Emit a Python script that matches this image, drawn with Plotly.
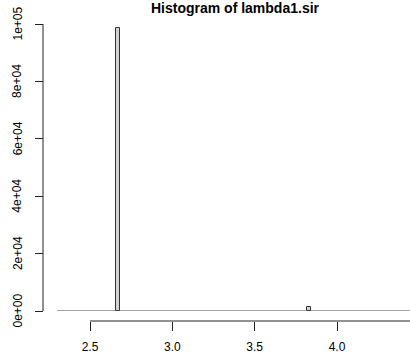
import plotly.graph_objects as go

# ---- data ----
bin_width = 0.02
bin_lefts = [2.66, 3.82]          # non-empty bins
counts = [98700, 1300]
hist_range = [2.30, 4.60]         # extent of the (mostly empty) bins
x_tickvals = [2.5, 3.0, 3.5, 4.0, 4.5]
x_ticktext = ["2.5", "3.0", "3.5", "4.0", "4.5"]
y_tickvals = [0, 20000, 40000, 60000, 80000, 100000]
y_ticktext = ["0e+00", "2e+04", "4e+04", "6e+04", "8e+04", "1e+05"]
title = "Histogram of lambda1.sir"

W, H = 410, 355
FONT = "Liberation Sans, Arial, sans-serif"
AX = "#222222"

centers = [b + bin_width / 2 for b in bin_lefts]

fig = go.Figure()
# empty bins drawn as a flat line at zero
fig.add_trace(go.Scatter(x=hist_range, y=[0, 0], mode="lines",
                         line=dict(color="#444444", width=1.2),
                         cliponaxis=False, hoverinfo="skip", showlegend=False))
fig.add_trace(go.Bar(x=centers, y=counts, width=[bin_width] * len(counts),
                     marker=dict(color="#d3d3d3", line=dict(color="#333333", width=1)),
                     showlegend=False))

px_left = 43
y_bot, y_top = 311, 24
x_axis_y = 321
y_label_x = 17.5

# rotated y tick labels placed at the tick values
annotations = [
    dict(x=y_label_x / W, xref="paper", y=v, yref="y", text=t, textangle=-90,
         showarrow=False, xanchor="center", yanchor="middle",
         font=dict(family=FONT, size=12, color="black"))
    for v, t in zip(y_tickvals, y_ticktext)
]

fig.update_layout(
    width=W, height=H,
    margin=dict(l=0, r=0, t=0, b=0, pad=0, autoexpand=False),
    paper_bgcolor="white", plot_bgcolor="white",
    font=dict(family=FONT, size=12, color="black"),
    title=dict(text="<b>" + title + "</b>", x=235 / W, xanchor="center",
               y=1 - 8 / H, yanchor="middle", yref="paper", automargin=False,
               font=dict(family=FONT, size=14, color="black")),
    xaxis=dict(domain=[px_left / W, 1], range=[2.2146, 4.4433],
               anchor="free", position=(H - x_axis_y) / H, automargin=False,
               showline=False, showgrid=False, zeroline=False,
               ticks="outside", ticklen=9, tickwidth=1, tickcolor=AX,
               tickvals=x_tickvals, ticktext=x_ticktext, ticklabelstandoff=6,
               tickfont=dict(family=FONT, size=12, color="black")),
    yaxis=dict(domain=[(H - y_bot) / H, (H - y_top) / H], range=[0, 100000],
               anchor="free", position=px_left / W, automargin=False,
               showline=False, showgrid=False, zeroline=False,
               ticks="outside", ticklen=8, tickwidth=1, tickcolor=AX,
               tickvals=y_tickvals, showticklabels=False),
    annotations=annotations,
    shapes=[
        dict(type="line", xref="x", yref="paper", x0=x_tickvals[0], x1=x_tickvals[-1],
             y0=(H - x_axis_y) / H, y1=(H - x_axis_y) / H,
             line=dict(color=AX, width=1)),
        dict(type="line", xref="paper", yref="y", x0=px_left / W, x1=px_left / W,
             y0=y_tickvals[0], y1=y_tickvals[-1],
             line=dict(color=AX, width=1)),
    ],
    bargap=0,
)

fig.write_html("out.html", config={"displayModeBar": False},
               post_script="document.body.style.margin='0';document.body.style.overflow='hidden';")
